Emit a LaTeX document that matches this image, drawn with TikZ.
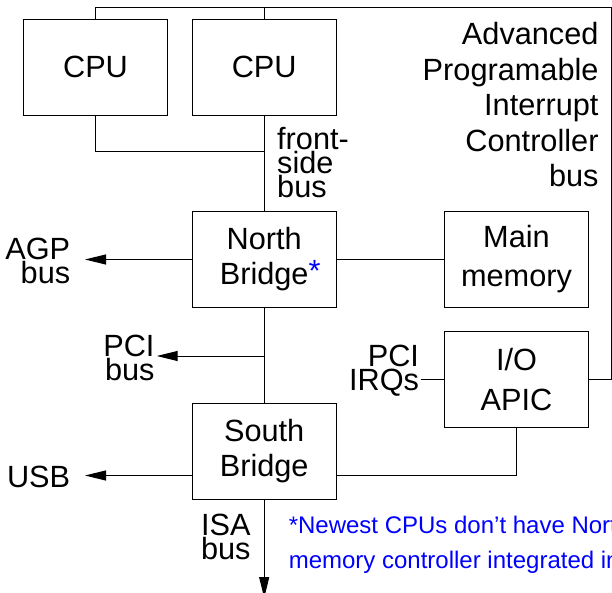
\documentclass[tikz,border=0pt]{standalone}
\usepackage{fontspec}
\setmainfont{Liberation Sans}
\usetikzlibrary{arrows.meta}
\definecolor{noteblue}{RGB}{0,0,255}
\begin{document}
\begin{tikzpicture}[x=1pt,y=-1pt,
  line width=1pt,
  box/.style={draw, minimum width=144pt, minimum height=96pt, inner sep=0pt, align=center, font=\fontsize{30.7}{35}\selectfont},
  lbl/.style={inner sep=0pt, font=\fontsize{30.7}{24}\selectfont},
  arr/.style={-{Triangle[length=21pt,width=10pt]}}]
\useasboundingbox (0,0) rectangle (612,593);
% boxes
\node[box] (cpu1) at (95.5,67.3) {CPU};
\node[box] (cpu2) at (264.2,67.3) {CPU};
\node[box] (nb) at (264.2,259.5) {North\\Bridge\rlap{\textcolor{noteblue}{\raisebox{3pt}{*}}}};
\node[box, font=\fontsize{30.7}{39}\selectfont] (mm) at (516.5,259.5) {Main\\memory};
\node[box, font=\fontsize{30.7}{40}\selectfont] (io) at (516.5,379.7) {I/O\\APIC};
\node[box] (sb) at (264.2,451.2) {South\\Bridge};
% coordinates
\coordinate (tr) at (611,7.3);
\coordinate (fsbj) at (264.2,151.7);
\coordinate (agp) at (85,259.5);
\coordinate (pcij) at (264.2,356);
\coordinate (pci) at (156.7,356);
\coordinate (irq) at (420.7,379.7);
\coordinate (usbj) at (192.3,475.5);
\coordinate (usb) at (85,475.5);
\coordinate (sbio) at (336,475.5);
\coordinate (isa) at (264.2,598);
% APIC bus
\draw (cpu1.north) |- (tr) |- (io.east);
\draw (cpu2.north) -- (cpu2.north |- tr);
% front-side bus
\draw (cpu1.south) |- (fsbj);
\draw (cpu2.south) -- (nb.north);
% north bridge links
\draw (nb.east) -- (mm.west);
\draw[arr] (nb.west) -- (agp);
\draw (nb.south) -- (sb.north);
\draw[arr] (pcij) -- (pci);
% io apic
\draw (irq) -- (io.west);
\draw (sbio) -| (io.south);
% south bridge
\draw[arr] (usbj) -- (usb);
\draw[arr] (sb.south) -- (isa);
% labels
\node[lbl, anchor=north east, align=right, font=\fontsize{30.7}{35.5}\selectfont] (apiclbl) at (599,22) {Advanced\\Programable\\Interrupt\\Controller\\bus};
\node[lbl, anchor=north west, align=left] (fsblbl) at (276.7,126.8) {front-\\side\\bus};
\node[lbl, anchor=north east, align=right] (agplbl) at (70.7,237.5) {AGP\\bus};
\node[lbl, anchor=north east, align=right] (pcilbl) at (155,334.8) {PCI\\bus};
\node[lbl, anchor=north east, align=right] (irqlbl) at (419.5,345) {PCI\\IRQs};
\node[lbl, anchor=north east] (usblbl) at (70.7,465.3) {USB};
\node[lbl, anchor=north east, align=right, font=\fontsize{30.7}{23.5}\selectfont] (isalbl) at (251,514) {ISA\\bus};
\node[inner sep=0pt, anchor=north west, align=left, text=noteblue, font=\fontsize{24}{35}\selectfont] (note) at (288.3,515.8) {*Newest CPUs don’t have North\\memory controller integrated in};
\end{tikzpicture}
\end{document}
